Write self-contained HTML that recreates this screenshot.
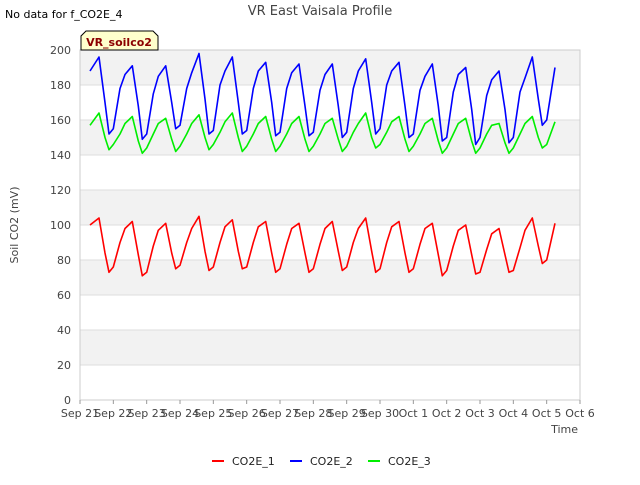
<!DOCTYPE html>
<html><head><meta charset="utf-8"><style>
body{margin:0;background:#fff;font-family:"Liberation Sans",sans-serif;}
svg text{font-family:"DejaVu Sans","Liberation Sans",sans-serif;}
</style></head><body>
<svg id="chart" width="640" height="480" viewBox="0 0 640 480" xmlns="http://www.w3.org/2000/svg">
<text x="5" y="18" font-size="11" fill="#000">No data for f_CO2E_4</text>
<text x="320" y="15" font-size="13" fill="#444" text-anchor="middle">VR East Vaisala Profile</text>
<g id="bands"></g>
<g id="grid"></g>
<rect x="80" y="50" width="500" height="350" fill="none" stroke="#ccc"/>
<g id="yaxis"></g>
<g id="xaxis"></g>
<text transform="translate(18,225) rotate(-90)" font-size="11" fill="#444" text-anchor="middle">Soil CO2 (mV)</text>
<text x="578" y="433" font-size="11" fill="#444" text-anchor="end">Time</text>
<g id="series"></g>
<path d="M86,31 L153,31 L158,36 L158,50 L81,50 L81,36 Z" fill="#ffffcc" stroke="#000"/>
<text x="119" y="46" font-size="11" font-weight="bold" fill="#8b0000" text-anchor="middle">VR_soilco2</text>
<g id="legend"></g>
</svg>
<script>
const xTickLabels=["Sep 21","Sep 22","Sep 23","Sep 24","Sep 25","Sep 26","Sep 27","Sep 28","Sep 29","Sep 30","Oct 1","Oct 2","Oct 3","Oct 4","Oct 5","Oct 6"];
const yTicks=[0,20,40,60,80,100,120,140,160,180,200];
const seriesNames=["CO2E_1","CO2E_2","CO2E_3"];
const seriesColors=["#ff0000","#0000ff","#00ee00"];
const times=[0.3,
0.57,0.75,0.87,1.0,1.2,1.35, 1.57,1.75,1.87,2.0,2.2,2.35, 2.57,2.75,2.87,3.0,3.2,3.35,
3.57,3.75,3.87,4.0,4.2,4.35, 4.57,4.75,4.87,5.0,5.2,5.35, 5.57,5.75,5.87,6.0,6.2,6.35,
6.57,6.75,6.87,7.0,7.2,7.35, 7.57,7.75,7.87,8.0,8.2,8.35, 8.57,8.75,8.87,9.0,9.2,9.35,
9.57,9.75,9.87,10.0,10.2,10.35, 10.57,10.75,10.87,11.0,11.2,11.35, 11.57,11.75,11.87,12.0,12.2,12.35,
12.57,12.75,12.87,13.0,13.2,13.35, 13.57,13.75,13.87,14.0,14.25];
const co2e1=[100,
104,84,73,76,90,98, 102,83,71,73,88,97, 101,84,75,77,90,98,
105,85,74,76,90,99, 103,85,75,76,90,99, 102,84,73,75,89,98,
101,84,73,75,89,98, 102,85,74,76,90,98, 104,85,73,75,90,99,
102,84,73,75,89,98, 101,83,71,74,88,97, 100,83,72,73,86,95,
98,83,73,74,87,97, 104,88,78,80,101];
const co2e2=[188,
196,170,152,155,178,186, 191,168,149,152,175,185, 191,170,155,157,178,187,
198,172,152,154,180,188, 196,170,152,154,178,188, 193,170,151,153,178,187,
192,168,151,153,177,186, 192,168,150,153,178,188, 195,170,152,155,180,188,
193,168,150,152,177,185, 192,168,148,150,176,186, 190,166,146,150,174,183,
188,166,147,150,176,184, 196,172,157,160,190];
const co2e3=[157,
164,150,143,146,152,158, 162,148,141,144,152,158, 161,149,142,145,152,158,
163,150,143,146,153,159, 164,150,142,145,152,158, 162,149,142,145,152,158,
162,149,142,145,152,158, 161,149,142,145,153,158, 164,150,144,146,153,159,
162,149,142,145,152,158, 161,148,141,144,152,158, 161,148,141,144,152,157,
158,147,141,144,152,158, 162,150,144,146,159];
const allSeries=[co2e1,co2e2,co2e3];
const NS="http://www.w3.org/2000/svg";
const X0=80,X1=580,Y0=400,Y1=50,DAYS=15,YMAX=200;
function xs(d){return X0+(X1-X0)*d/DAYS;}
function ys(v){return Y0-(Y0-Y1)*v/YMAX;}
function mk(tag,attrs,parent){const e=document.createElementNS(NS,tag);for(const k in attrs)e.setAttribute(k,attrs[k]);parent.appendChild(e);return e;}
const bands=document.getElementById('bands'),grid=document.getElementById('grid'),ya=document.getElementById('yaxis'),xa=document.getElementById('xaxis');
for(let i=0;i<yTicks.length-1;i++){
  if(i%2===1){const r=mk('rect',{x:X0,y:ys(yTicks[i+1]),width:X1-X0,height:ys(yTicks[i])-ys(yTicks[i+1]),fill:'#f2f2f2'},bands);
  
  }
}
yTicks.forEach(v=>{
  const l=mk('line',{x1:X0,x2:X1,y1:ys(v),y2:ys(v),stroke:'#dddddd'},grid);
  
  
  const t=mk('text',{x:71,y:ys(v)+4,'font-size':11,fill:'#444','text-anchor':'end'},ya);
  t.textContent=v;
  
  
});
xTickLabels.forEach((s,i)=>{
  const l=mk('line',{x1:xs(i),x2:xs(i),y1:Y0,y2:Y0+4,stroke:'#999'},xa);
  
  
  const t=mk('text',{x:xs(i),y:417,'font-size':11,fill:'#444','text-anchor':'middle'},xa);
  t.textContent=s;
  
  
});
const sg=document.getElementById('series');
allSeries.forEach((vals,si)=>{
  const d=vals.map((v,i)=>(i?'L':'M')+xs(times[i]).toFixed(1)+','+ys(v).toFixed(1)).join(' ');
  const p=mk('path',{d:d,fill:'none',stroke:seriesColors[si],'stroke-width':1.6,'stroke-linejoin':'round'},sg);
  
  
});
const lg=document.getElementById('legend');
const lx=[212,290,368];
seriesNames.forEach((n,i)=>{
  const g=mk('g',{},lg);
  
  
  mk('line',{x1:lx[i],x2:lx[i]+12,y1:461,y2:461,stroke:seriesColors[i],'stroke-width':2},g);
  const t=mk('text',{x:lx[i]+20,y:465,'font-size':11,fill:'#222'},g);
  t.textContent=n;
});
</script>
</body></html>
